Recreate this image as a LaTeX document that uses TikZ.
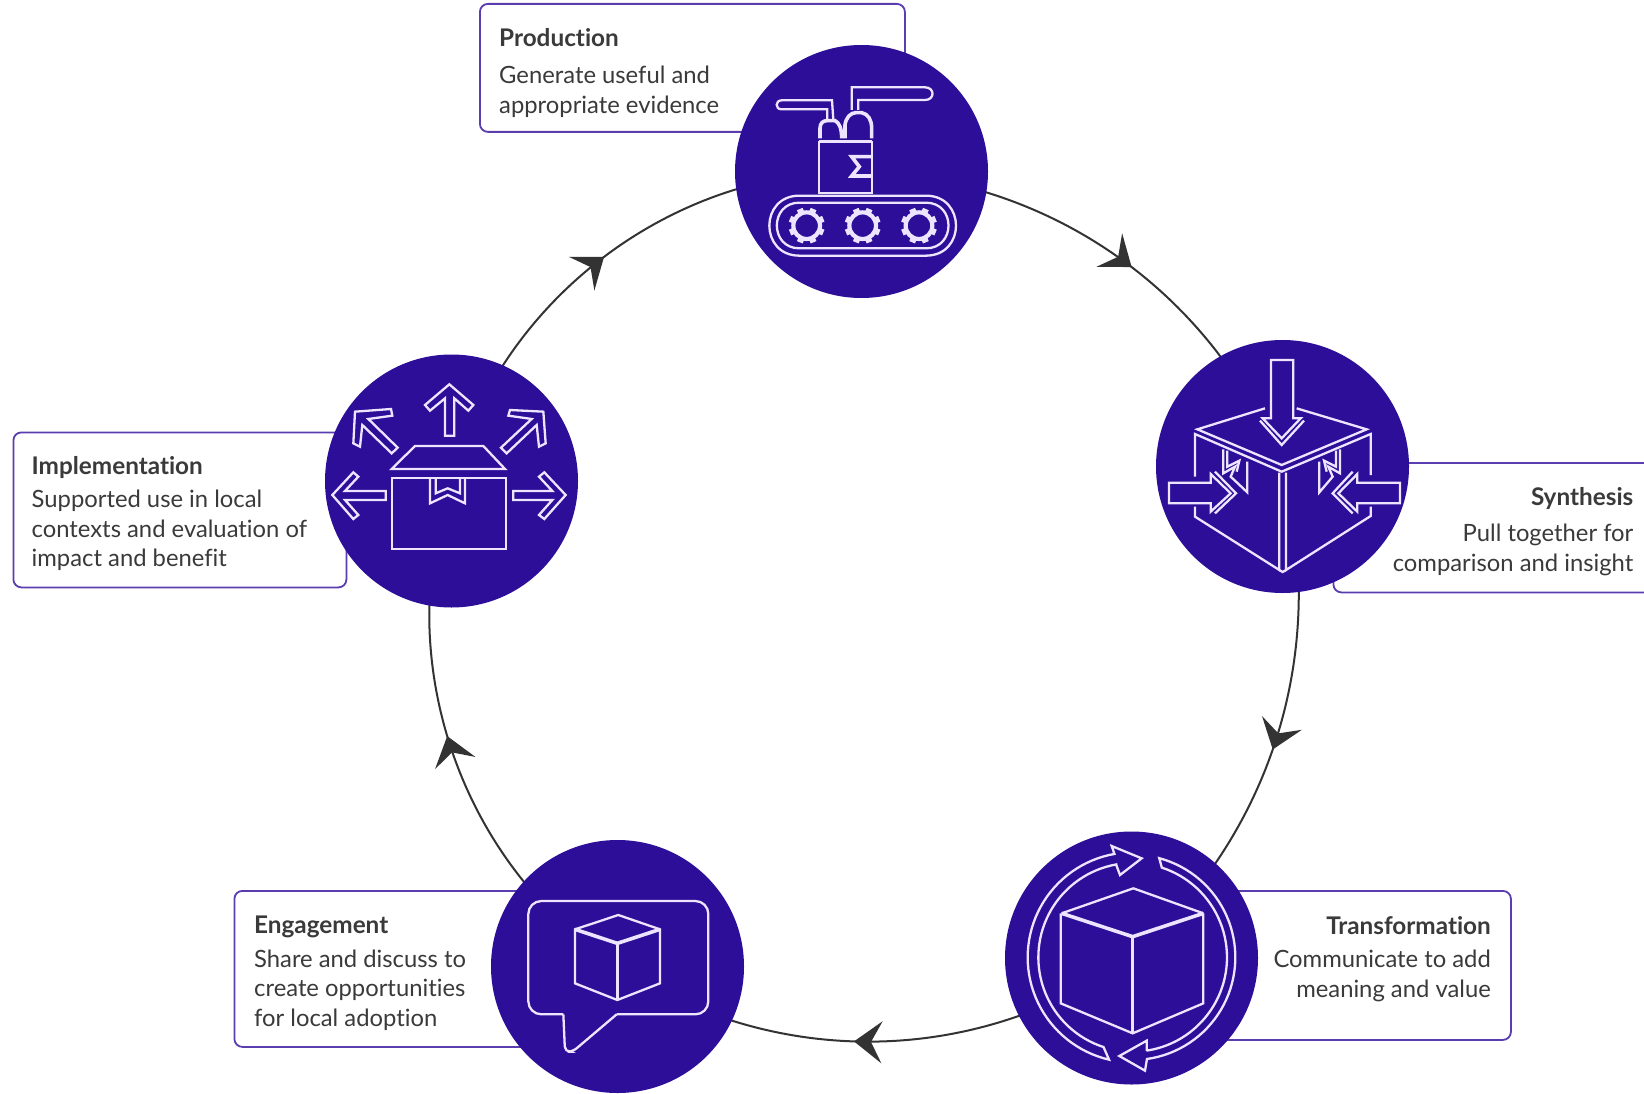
\documentclass[tikz,border=0pt]{standalone}
\usepackage{fontspec}
\setmainfont[Ligatures=CommonOff]{Lato}
\usetikzlibrary{backgrounds,decorations.markings,arrows.meta}
\definecolor{deep}{HTML}{2C0E98}
\definecolor{edgeline}{HTML}{5A3DAE}
\definecolor{inktext}{HTML}{3A3A3A}
\definecolor{ringline}{HTML}{333333}
\definecolor{lilac}{HTML}{EDE4FF}
\newcommand{\heading}[1]{{\fontsize{24.3}{29.5}\selectfont\textbf{#1}}}
\tikzset{
  hub/.style={circle,fill=deep,minimum size=253pt,inner sep=0pt},
  panel/.style={draw=edgeline,line width=1.8pt,rounded corners=8pt,fill=white,inner sep=0pt,anchor=north west},
  caption/.style={inner sep=0pt,text=inktext,font=\fontsize{23.8}{29.5}\selectfont},
  link/.style={draw=ringline,line width=2pt,looseness=0.94,
    postaction={decorate,decoration={markings,mark=at position #1 with {\arrow{Stealth[length=28pt,width=42pt,inset=11pt,ringline]}}}}},
  ico/.style={draw=lilac,line width=2.3pt,line join=miter},
  icob/.style={draw=lilac,line width=3.6pt},
}
\begin{document}
\begin{tikzpicture}[x=1pt,y=-1pt]
\useasboundingbox (0,0) rectangle (1644,1094);
% hubs
\node[hub] (production) at (861.5,171.5) {};
\node[hub] (synthesis) at (1282.5,466.5) {};
\node[hub] (transformation) at (1131.5,958) {};
\node[hub] (engagement) at (617.5,966.5) {};
\node[hub] (implementation) at (451.5,481) {};
\begin{scope}[on background layer]
\fill[white] (0,0) rectangle (1644,1094);
\node[panel,minimum width=425pt,minimum height=128pt] (pbox) at (479,3) {};
\node[panel,minimum width=333pt,minimum height=155pt] (ibox) at (12.5,431.5) {};
\node[panel,minimum width=340pt,minimum height=129.5pt] (sbox) at (1332.5,462) {};
\node[panel,minimum width=361pt,minimum height=149pt] (tbox) at (1149,890) {};
\node[panel,minimum width=366pt,minimum height=156pt] (ebox) at (233.5,890) {};
\path[link=0.535] (production.center) to[bend left=33] (synthesis.center);
\path[link=0.53] (synthesis.center) to[bend left=31.5] (transformation.center);
\path[link=0.54] (transformation.center) to[bend left=34] (engagement.center);
\path[link=0.53] (engagement.center) to[bend left=38] (implementation.center);
\path[link=0.5] (implementation.center) to[bend left=38] (production.center);
\end{scope}
% captions
\node[caption,anchor=north west,align=left] (ptext) at (499,28) {\heading{Production}\\[8pt]Generate useful and\\appropriate evidence};
\node[caption,anchor=north west,align=left] (itext) at (31.5,456) {\heading{Implementation}\\[4pt]Supported use in local\\contexts and evaluation of\\impact and benefit};
\node[caption,anchor=north east,align=right] (stext) at (1633.5,487) {\heading{Synthesis}\\[7pt]Pull together for\\comparison and insight};
\node[caption,anchor=north east,align=right] (ttext) at (1491,916) {\heading{Transformation}\\[4pt]Communicate to add\\meaning and value};
\node[caption,anchor=north west,align=left] (etext) at (254,916) {\heading{Engagement}\\[4pt]Share and discuss to\\create opportunities\\for local adoption};
% production icon
\begin{scope}[shift={(720,30)},x=0.33333pt,y=-0.33333pt]
\draw[ico] (238,497) -- (618,497) .. controls (738,497) and (738,677) .. (618,677) -- (238,677) .. controls (118,677) and (118,497) .. (238,497) -- cycle;
\draw[ico] (238,518) -- (618,518) .. controls (708,518) and (708,655) .. (618,655) -- (238,655) .. controls (148,655) and (148,518) .. (238,518) -- cycle;
\foreach \cx in {260,428,597}{
  \draw[lilac,line width=4.2pt] (\cx,587) circle[radius=40];
  \foreach \a in {0,45,...,315}{
    \draw[lilac,line width=6.2pt] ({\cx+42*cos(\a+22.5)},{587+42*sin(\a+22.5)}) -- ({\cx+54*cos(\a+22.5)},{587+54*sin(\a+22.5)});
  }
}
\draw[ico] (298,335) rectangle (455,488);
\draw[icob] (298,335) -- (455,335);
\draw[icob] (455,380) -- (395,380) -- (418,410) -- (395,438) -- (455,438);
\draw[icob] (300,325) -- (300,295) .. controls (300,278) and (310,272) .. (322,272) -- (345,272) .. controls (358,278) and (365,295) .. (365,325);
\draw[icob] (375,325) -- (375,285) .. controls (378,262) and (392,248) .. (408,248) -- (425,248) .. controls (445,252) and (455,270) .. (455,295) -- (455,325);
\draw[ico] (322,270) -- (322,238) -- (185,238) .. controls (165,238) and (165,211) .. (185,211) -- (336,211) -- (340,270);
\draw[ico] (395,240) -- (395,172) -- (615,172) .. controls (645,172) and (645,210) .. (615,210) -- (415,210) -- (415,240);
\end{scope}
% synthesis icon
\begin{scope}[shift={(1140,330)},x=0.33333pt,y=-0.33333pt]
\draw[ico] (375,235) -- (172,298) -- (425,405) -- (680,298) -- (470,235);
\draw[ico] (165,440) -- (165,312) -- (425,425) -- (692,312) -- (692,435);
\draw[ico] (165,530) -- (165,560) -- (418,720) -- (418,428);
\draw[ico] (692,530) -- (692,558) -- (438,720) -- (438,428);
\draw[ico] (418,720) -- (428,726) -- (438,720);
\draw[ico] (393,90) -- (460,90) -- (460,265) -- (482,265) -- (425,325) -- (368,265) -- (393,265) -- cycle;
\draw[ico] (360,272) -- (425,345) -- (492,272);
\draw[ico] (87,458) -- (212,458) -- (212,432) -- (272,490) -- (212,545) -- (212,520) -- (87,520) -- cycle;
\draw[ico] (225,425) -- (288,490) -- (225,550);
\draw[ico] (780,458) -- (652,458) -- (652,432) -- (595,490) -- (652,545) -- (652,520) -- (780,520) -- cycle;
\draw[ico] (638,425) -- (578,490) -- (638,550);
\draw[ico] (250,358) -- (250,430) -- (285,410) -- (272,440) -- (322,487) -- (322,395);
\draw[ico] (262,362) -- (262,410) -- (298,392) -- (290,425);
\draw[ico] (600,358) -- (600,430) -- (565,410) -- (578,440) -- (538,487) -- (538,395);
\draw[ico] (588,362) -- (588,410) -- (552,392) -- (560,425);
\end{scope}
% transformation icon
\begin{scope}[shift={(990,820)},x=0.33333pt,y=-0.33333pt]
\draw[ico] (215,280) -- (430,205) -- (640,280);
\draw[ico] (212,280) -- (212,550) -- (428,640) -- (640,550) -- (640,280);
\draw[icob] (215,280) -- (428,350) -- (640,280);
\draw[icob] (428,350) -- (428,640);
\draw[ico] plot[domain=257:100,samples=50] ({428+315*cos(\x)},{412-315*sin(\x)}) -- (365,78) -- (455,115) -- (390,165) -- (380,138) -- plot[domain=100:252,samples=50] ({428+283*cos(\x)},{412-283*sin(\x)}) -- cycle;
\draw[ico] plot[domain=75:-82,samples=50] ({428+308*cos(\x)},{412-308*sin(\x)}) -- (465,752) -- (388,708) -- (470,662) -- (470,690) -- plot[domain=-81:72,samples=50] ({428+283*cos(\x)},{412-283*sin(\x)}) -- cycle;
\end{scope}
% engagement icon
\begin{scope}[shift={(480,830)},x=0.33333pt,y=-0.33333pt]
\draw[ico,rounded corners=13pt] (410,553) -- (685,553) -- (685,213) -- (145,213) -- (145,553) -- (250,553);
\draw[ico,rounded corners=5pt] (250,553) -- (255,665) -- (278,665) -- (410,553);
\draw[ico] (285,298) -- (415,255) -- (540,298) -- (540,460) -- (412,510) -- (285,460) -- cycle;
\draw[icob] (285,298) -- (412,340) -- (540,298);
\draw[icob] (412,340) -- (412,510);
\end{scope}
% implementation icon
\begin{scope}[shift={(315,345)},x=0.33333pt,y=-0.33333pt]
\draw[ico] (230,372) -- (300,303) -- (505,303) -- (570,372) -- cycle;
\draw[ico] (230,400) rectangle (572,612);
\draw[ico] (345,400) -- (345,475) -- (398,450) -- (450,475) -- (450,400);
\draw[ico] (362,400) -- (362,445) -- (398,430) -- (435,445) -- (435,400);
\draw[ico] (390,272) -- (390,160) -- (345,197) -- (330,180) -- (403,118) -- (475,180) -- (460,197) -- (418,160) -- (418,272) -- cycle;
\draw[ico] (52,450) -- (115,382) -- (130,395) -- (90,438) -- (212,438) -- (212,465) -- (90,465) -- (130,510) -- (115,522) -- cycle;
\draw[ico] (752,450) -- (688,382) -- (672,395) -- (712,438) -- (595,438) -- (595,465) -- (712,465) -- (672,510) -- (688,522) -- cycle;
\draw[ico] (120,200) -- (228,192) -- (232,212) -- (160,222) -- (248,308) -- (230,325) -- (142,240) -- (135,305) -- (115,295) -- cycle;
\draw[ico] (685,200) -- (585,195) -- (580,212) -- (650,222) -- (558,308) -- (575,325) -- (665,240) -- (672,305) -- (692,295) -- cycle;
\end{scope}
\end{tikzpicture}
\end{document}
